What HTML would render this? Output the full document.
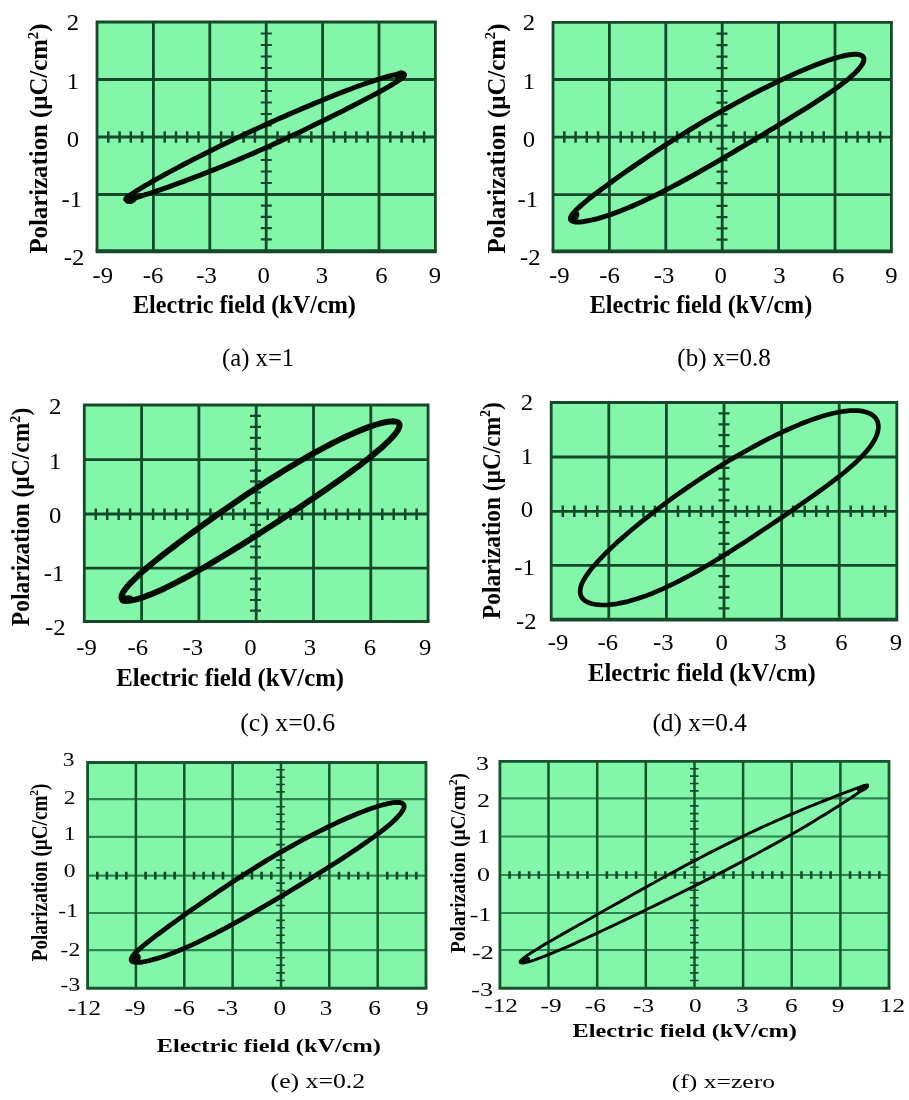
<!DOCTYPE html>
<html><head><meta charset="utf-8"><title>P-E hysteresis loops</title>
<style>
html,body{margin:0;padding:0;background:#fff;}
svg{display:block;font-family:'Liberation Serif', serif;fill:#000;}
</style></head><body>
<svg width="909" height="1100" viewBox="0 0 909 1100">
<defs><filter id="soft" x="0" y="0" width="909" height="1100" filterUnits="userSpaceOnUse"><feGaussianBlur stdDeviation="0.45"/></filter></defs>
<rect width="909" height="1100" fill="#ffffff"/>
<g filter="url(#soft)">
<rect x="97.0" y="22.0" width="338.4" height="228.6" fill="#83f6aa"/>
<path d="M97.0 79.5H435.4M97.0 137.0H435.4M97.0 194.5H435.4" stroke="#134a2a" stroke-width="2.8" fill="none"/>
<path d="M153.4 22.0V250.6M209.8 22.0V250.6M266.2 22.0V250.6M322.6 22.0V250.6M379.0 22.0V250.6" stroke="#134a2a" stroke-width="2.8" fill="none"/>
<path d="M97.0 250.6V22.0H435.4V250.6" stroke="#134a2a" stroke-width="2.8" fill="none" stroke-linejoin="miter"/>
<path d="M95.6 251.2H436.8" stroke="#134a2a" stroke-width="4.0" fill="none"/>
<path d="M108.3 131.2V142.8M119.6 131.2V142.8M130.8 131.2V142.8M142.1 131.2V142.8M164.7 131.2V142.8M176.0 131.2V142.8M187.2 131.2V142.8M198.5 131.2V142.8M221.1 131.2V142.8M232.4 131.2V142.8M243.6 131.2V142.8M254.9 131.2V142.8M277.5 131.2V142.8M288.8 131.2V142.8M300.0 131.2V142.8M311.3 131.2V142.8M333.9 131.2V142.8M345.2 131.2V142.8M356.4 131.2V142.8M367.7 131.2V142.8M390.3 131.2V142.8M401.6 131.2V142.8M412.8 131.2V142.8M424.1 131.2V142.8" stroke="#134a2a" stroke-width="2.5" fill="none"/>
<path d="M260.8 33.5H271.8M260.8 45.0H271.8M260.8 56.5H271.8M260.8 68.0H271.8M260.8 91.0H271.8M260.8 102.5H271.8M260.8 114.0H271.8M260.8 125.5H271.8M260.8 148.5H271.8M260.8 160.0H271.8M260.8 171.5H271.8M260.8 183.0H271.8M260.8 205.7H271.8M260.8 216.9H271.8M260.8 228.2H271.8M260.8 239.4H271.8" stroke="#134a2a" stroke-width="2.2" fill="none"/>
<path d="M404.4 74.9L404.3 74.5L403.8 74.1L403.1 73.9L402.2 73.8L400.9 73.8L399.4 74.0L397.6 74.2L395.5 74.6L393.2 75.1L390.6 75.7L387.8 76.5L384.7 77.4L381.3 78.3L377.8 79.5L374.0 80.7L370.0 82.0L365.8 83.5L361.3 85.0L356.7 86.7L351.9 88.5L347.0 90.4L341.8 92.4L336.5 94.4L331.1 96.6L325.5 98.9L319.8 101.2L314.0 103.6L308.1 106.1L302.1 108.6L296.1 111.2L289.9 113.9L283.8 116.6L277.5 119.3L271.3 122.1L265.1 124.9L258.8 127.8L252.6 130.6L246.3 133.5L240.2 136.4L234.0 139.3L228.0 142.2L222.0 145.1L216.1 148.0L210.3 150.9L204.6 153.7L199.0 156.6L193.6 159.3L188.3 162.1L183.1 164.7L178.2 167.4L173.4 169.9L168.8 172.4L164.3 174.8L160.1 177.2L156.1 179.4L152.3 181.5L148.8 183.6L145.4 185.5L142.3 187.4L139.5 189.1L136.9 190.7L134.6 192.1L132.5 193.5L130.7 194.7L129.2 195.8L127.9 196.7L127.0 197.5L126.3 198.2L125.8 198.8L125.7 199.2L125.8 199.5L126.3 199.6L127.0 199.7L127.9 199.6L129.2 199.4L130.7 199.0L132.5 198.6L134.6 198.0L136.9 197.4L139.5 196.6L142.3 195.7L145.4 194.7L148.8 193.7L152.3 192.5L156.1 191.2L160.1 189.8L164.3 188.4L168.8 186.8L173.4 185.1L178.2 183.4L183.1 181.6L188.3 179.7L193.6 177.7L199.0 175.6L204.6 173.4L210.3 171.2L216.1 168.9L222.0 166.5L228.0 164.0L234.0 161.5L240.2 158.9L246.3 156.3L252.6 153.6L258.8 150.8L265.1 148.0L271.3 145.2L277.5 142.4L283.8 139.5L289.9 136.6L296.1 133.7L302.1 130.9L308.1 128.0L314.0 125.1L319.8 122.3L325.5 119.5L331.1 116.7L336.5 114.0L341.8 111.4L347.0 108.8L351.9 106.2L356.7 103.8L361.3 101.4L365.8 99.1L370.0 96.9L374.0 94.8L377.8 92.7L381.3 90.8L384.7 88.9L387.8 87.2L390.6 85.5L393.2 84.0L395.5 82.5L397.6 81.2L399.4 80.0L400.9 78.9L402.2 77.8L403.1 76.9L403.8 76.2L404.3 75.5Z" stroke="#050805" stroke-width="5.0" fill="none" stroke-linejoin="round"/>
<ellipse cx="400.5" cy="75.5" rx="6.2" ry="5.0" transform="rotate(-20 400.5 75.5)" fill="#050805"/>
<ellipse cx="131.0" cy="198.7" rx="7.0" ry="5.0" transform="rotate(-25 131.0 198.7)" fill="#050805"/>
<text transform="translate(102.7 283.4) scale(1.030 1)" font-size="24.0" text-anchor="middle">-9</text>
<text transform="translate(153.0 283.4) scale(1.030 1)" font-size="24.0" text-anchor="middle">-6</text>
<text transform="translate(206.5 283.4) scale(1.030 1)" font-size="24.0" text-anchor="middle">-3</text>
<text transform="translate(263.6 283.4) scale(1.030 1)" font-size="24.0" text-anchor="middle">0</text>
<text transform="translate(322.0 283.4) scale(1.030 1)" font-size="24.0" text-anchor="middle">3</text>
<text transform="translate(381.4 283.4) scale(1.030 1)" font-size="24.0" text-anchor="middle">6</text>
<text transform="translate(434.9 283.4) scale(1.030 1)" font-size="24.0" text-anchor="middle">9</text>
<text transform="translate(79.0 29.5) scale(1.030 1)" font-size="24.0" text-anchor="end">2</text>
<text transform="translate(79.0 88.5) scale(1.030 1)" font-size="24.0" text-anchor="end">1</text>
<text transform="translate(79.0 146.5) scale(1.030 1)" font-size="24.0" text-anchor="end">0</text>
<text transform="translate(82.0 206.5) scale(1.030 1)" font-size="24.0" text-anchor="end">-1</text>
<text transform="translate(84.3 264.5) scale(1.030 1)" font-size="24.0" text-anchor="end">-2</text>
<text transform="translate(133.0 312.8) scale(0.991 1)" font-size="24.4" font-weight="bold">Electric field (kV/cm)</text>
<text transform="translate(47.0 253.5) rotate(-90) scale(1.015 1)" font-size="24.4" font-weight="bold">Polarization (µC/cm<tspan font-size="14.6" dy="-9.3">2</tspan><tspan dy="9.3">)</tspan></text>
<text transform="translate(222.0 365.7) scale(1.012 1)" font-size="24.4">(a) x=1</text>
<rect x="553.0" y="22.3" width="338.4" height="228.5" fill="#83f6aa"/>
<path d="M553.0 79.5H891.4M553.0 137.2H891.4M553.0 194.7H891.4" stroke="#134a2a" stroke-width="2.8" fill="none"/>
<path d="M609.4 22.3V250.8M665.8 22.3V250.8M722.2 22.3V250.8M778.6 22.3V250.8M835.0 22.3V250.8" stroke="#134a2a" stroke-width="2.8" fill="none"/>
<path d="M553.0 250.8V22.3H891.4V250.8" stroke="#134a2a" stroke-width="2.8" fill="none" stroke-linejoin="miter"/>
<path d="M551.6 251.3H892.8" stroke="#134a2a" stroke-width="3.8" fill="none"/>
<path d="M564.3 131.2V142.8M575.6 131.2V142.8M586.8 131.2V142.8M598.1 131.2V142.8M620.7 131.2V142.8M632.0 131.2V142.8M643.2 131.2V142.8M654.5 131.2V142.8M677.1 131.2V142.8M688.4 131.2V142.8M699.6 131.2V142.8M710.9 131.2V142.8M733.5 131.2V142.8M744.8 131.2V142.8M756.0 131.2V142.8M767.3 131.2V142.8M789.9 131.2V142.8M801.2 131.2V142.8M812.4 131.2V142.8M823.7 131.2V142.8M846.3 131.2V142.8M857.6 131.2V142.8M868.8 131.2V142.8M880.1 131.2V142.8" stroke="#134a2a" stroke-width="2.5" fill="none"/>
<path d="M716.5 33.7H727.5M716.5 45.2H727.5M716.5 56.6H727.5M716.5 68.1H727.5M716.5 91.0H727.5M716.5 102.6H727.5M716.5 114.1H727.5M716.5 125.7H727.5M716.5 148.7H727.5M716.5 160.2H727.5M716.5 171.7H727.5M716.5 183.2H727.5M716.5 205.9H727.5M716.5 217.1H727.5M716.5 228.4H727.5M716.5 239.6H727.5" stroke="#134a2a" stroke-width="2.2" fill="none"/>
<path d="M863.9 59.3L863.8 58.1L863.3 57.1L862.6 56.2L861.5 55.5L860.2 54.9L858.6 54.5L856.7 54.3L854.5 54.3L852.1 54.5L849.4 54.8L846.4 55.3L843.1 56.0L839.6 56.9L835.9 57.9L831.9 59.1L827.7 60.5L823.2 62.1L818.6 63.8L813.7 65.7L808.7 67.8L803.4 70.0L798.0 72.3L792.4 74.8L786.7 77.4L780.9 80.1L774.9 83.0L768.7 86.0L762.5 89.1L756.2 92.3L749.8 95.6L743.4 99.1L736.9 102.6L730.4 106.2L723.8 109.8L717.2 113.6L710.6 117.4L704.0 121.2L697.5 125.1L691.0 129.0L684.6 133.0L678.2 137.0L671.9 140.9L665.7 144.9L659.5 148.9L653.5 152.8L647.7 156.7L642.0 160.6L636.4 164.4L631.0 168.1L625.7 171.8L620.7 175.3L615.8 178.8L611.2 182.1L606.7 185.4L602.5 188.5L598.5 191.5L594.8 194.3L591.3 197.1L588.0 199.6L585.0 202.1L582.3 204.4L579.9 206.5L577.7 208.5L575.8 210.4L574.2 212.1L572.9 213.7L571.8 215.1L571.1 216.4L570.6 217.6L570.5 218.6L570.6 219.5L571.1 220.3L571.8 220.9L572.9 221.3L574.2 221.7L575.8 221.9L577.7 222.0L579.9 221.9L582.3 221.7L585.0 221.3L588.0 220.8L591.3 220.1L594.8 219.3L598.5 218.3L602.5 217.1L606.7 215.8L611.2 214.3L615.8 212.6L620.7 210.8L625.7 208.7L631.0 206.6L636.4 204.2L642.0 201.7L647.7 199.0L653.5 196.2L659.5 193.2L665.7 190.1L671.9 186.9L678.2 183.5L684.6 180.0L691.0 176.5L697.5 172.9L704.0 169.1L710.6 165.4L717.2 161.6L723.8 157.7L730.4 153.9L736.9 150.0L743.4 146.2L749.8 142.3L756.2 138.5L762.5 134.8L768.7 131.0L774.9 127.3L780.9 123.7L786.7 120.2L792.4 116.7L798.0 113.2L803.4 109.9L808.7 106.6L813.7 103.4L818.6 100.2L823.2 97.2L827.7 94.2L831.9 91.3L835.9 88.5L839.6 85.8L843.1 83.1L846.4 80.6L849.4 78.1L852.1 75.7L854.5 73.5L856.7 71.3L858.6 69.2L860.2 67.2L861.5 65.4L862.6 63.7L863.3 62.1L863.8 60.6Z" stroke="#050805" stroke-width="5.0" fill="none" stroke-linejoin="round"/>
<ellipse cx="574.0" cy="216.5" rx="4.5" ry="6.5" transform="rotate(40 574.0 216.5)" fill="#050805"/>
<text transform="translate(559.4 283.4) scale(1.030 1)" font-size="24.0" text-anchor="middle">-9</text>
<text transform="translate(609.5 283.4) scale(1.030 1)" font-size="24.0" text-anchor="middle">-6</text>
<text transform="translate(664.0 283.4) scale(1.030 1)" font-size="24.0" text-anchor="middle">-3</text>
<text transform="translate(720.7 283.4) scale(1.030 1)" font-size="24.0" text-anchor="middle">0</text>
<text transform="translate(779.5 283.4) scale(1.030 1)" font-size="24.0" text-anchor="middle">3</text>
<text transform="translate(838.2 283.4) scale(1.030 1)" font-size="24.0" text-anchor="middle">6</text>
<text transform="translate(891.5 283.4) scale(1.030 1)" font-size="24.0" text-anchor="middle">9</text>
<text transform="translate(535.0 29.5) scale(1.030 1)" font-size="24.0" text-anchor="end">2</text>
<text transform="translate(535.0 88.5) scale(1.030 1)" font-size="24.0" text-anchor="end">1</text>
<text transform="translate(535.0 147.0) scale(1.030 1)" font-size="24.0" text-anchor="end">0</text>
<text transform="translate(538.0 206.5) scale(1.030 1)" font-size="24.0" text-anchor="end">-1</text>
<text transform="translate(540.5 264.5) scale(1.030 1)" font-size="24.0" text-anchor="end">-2</text>
<text transform="translate(589.7 312.8) scale(0.990 1)" font-size="24.4" font-weight="bold">Electric field (kV/cm)</text>
<text transform="translate(504.5 253.5) rotate(-90) scale(1.015 1)" font-size="24.4" font-weight="bold">Polarization (µC/cm<tspan font-size="14.6" dy="-9.3">2</tspan><tspan dy="9.3">)</tspan></text>
<text transform="translate(677.3 365.7) scale(1.027 1)" font-size="24.4">(b) x=0.8</text>
<rect x="84.3" y="405.0" width="343.8" height="216.3" fill="#83f6aa"/>
<path d="M84.3 459.7H428.1M84.3 514.0H428.1M84.3 568.1H428.1" stroke="#134a2a" stroke-width="2.8" fill="none"/>
<path d="M141.6 405.0V621.3M198.9 405.0V621.3M256.2 405.0V621.3M313.5 405.0V621.3M370.8 405.0V621.3" stroke="#134a2a" stroke-width="2.8" fill="none"/>
<path d="M84.3 621.3V405.0H428.1V621.3" stroke="#134a2a" stroke-width="2.8" fill="none" stroke-linejoin="miter"/>
<path d="M82.9 621.4H429.5" stroke="#134a2a" stroke-width="3.0" fill="none"/>
<path d="M95.8 508.4V520.0M107.2 508.4V520.0M118.7 508.4V520.0M130.1 508.4V520.0M153.1 508.4V520.0M164.5 508.4V520.0M176.0 508.4V520.0M187.4 508.4V520.0M210.4 508.4V520.0M221.8 508.4V520.0M233.3 508.4V520.0M244.7 508.4V520.0M267.7 508.4V520.0M279.1 508.4V520.0M290.6 508.4V520.0M302.0 508.4V520.0M325.0 508.4V520.0M336.4 508.4V520.0M347.9 508.4V520.0M359.3 508.4V520.0M382.3 508.4V520.0M393.7 508.4V520.0M405.2 508.4V520.0M416.6 508.4V520.0" stroke="#134a2a" stroke-width="2.5" fill="none"/>
<path d="M250.0 415.9H261.0M250.0 426.9H261.0M250.0 437.8H261.0M250.0 448.8H261.0M250.0 470.6H261.0M250.0 481.4H261.0M250.0 492.3H261.0M250.0 503.1H261.0M250.0 524.8H261.0M250.0 535.6H261.0M250.0 546.5H261.0M250.0 557.3H261.0M250.0 578.7H261.0M250.0 589.4H261.0M250.0 600.0H261.0M250.0 610.7H261.0" stroke="#134a2a" stroke-width="2.2" fill="none"/>
<path d="M399.5 425.3L399.4 424.2L398.9 423.3L398.2 422.6L397.3 422.0L396.0 421.6L394.5 421.4L392.7 421.3L390.6 421.4L388.3 421.7L385.7 422.1L382.9 422.7L379.8 423.5L376.5 424.5L373.0 425.6L369.2 426.9L365.2 428.4L361.0 430.1L356.6 431.9L352.0 433.9L347.2 436.1L342.2 438.4L337.1 440.9L331.8 443.5L326.4 446.3L320.8 449.3L315.1 452.4L309.3 455.6L303.5 459.0L297.5 462.5L291.4 466.1L285.3 469.8L279.2 473.6L273.0 477.4L266.7 481.4L260.5 485.4L254.3 489.5L248.0 493.6L241.8 497.8L235.7 502.0L229.6 506.2L223.5 510.4L217.5 514.5L211.7 518.7L205.9 522.8L200.2 526.9L194.6 531.0L189.2 534.9L183.9 538.9L178.8 542.7L173.8 546.5L169.0 550.1L164.4 553.7L160.0 557.2L155.8 560.5L151.8 563.8L148.0 566.9L144.5 569.9L141.2 572.8L138.1 575.6L135.3 578.3L132.7 580.8L130.4 583.2L128.3 585.4L126.5 587.5L125.0 589.5L123.7 591.3L122.8 592.9L122.1 594.4L121.6 595.8L121.5 597.0L121.6 598.0L122.1 598.9L122.8 599.6L123.7 600.1L125.0 600.5L126.5 600.7L128.3 600.7L130.4 600.5L132.7 600.1L135.3 599.6L138.1 598.8L141.2 597.9L144.5 596.8L148.0 595.4L151.8 594.0L155.8 592.3L160.0 590.4L164.4 588.4L169.0 586.1L173.8 583.8L178.8 581.2L183.9 578.5L189.2 575.6L194.6 572.6L200.2 569.5L205.9 566.3L211.7 562.9L217.5 559.4L223.5 555.8L229.6 552.1L235.7 548.4L241.8 544.6L248.0 540.7L254.3 536.8L260.5 532.8L266.7 528.8L273.0 524.8L279.2 520.8L285.3 516.8L291.4 512.8L297.5 508.8L303.5 504.8L309.3 500.8L315.1 496.9L320.8 493.0L326.4 489.2L331.8 485.4L337.1 481.7L342.2 478.1L347.2 474.5L352.0 471.0L356.6 467.6L361.0 464.3L365.2 461.0L369.2 457.9L373.0 454.9L376.5 451.9L379.8 449.1L382.9 446.4L385.7 443.8L388.3 441.3L390.6 439.0L392.7 436.8L394.5 434.7L396.0 432.8L397.3 431.0L398.2 429.3L398.9 427.8L399.4 426.5Z" stroke="#050805" stroke-width="6.0" fill="none" stroke-linejoin="round"/>
<ellipse cx="126.5" cy="599.5" rx="7.0" ry="4.2" transform="rotate(-12 126.5 599.5)" fill="#050805"/>
<text transform="translate(86.5 654.6) scale(1.030 1)" font-size="24.0" text-anchor="middle">-9</text>
<text transform="translate(137.7 654.6) scale(1.030 1)" font-size="24.0" text-anchor="middle">-6</text>
<text transform="translate(192.8 654.6) scale(1.030 1)" font-size="24.0" text-anchor="middle">-3</text>
<text transform="translate(250.5 654.6) scale(1.030 1)" font-size="24.0" text-anchor="middle">0</text>
<text transform="translate(310.0 654.6) scale(1.030 1)" font-size="24.0" text-anchor="middle">3</text>
<text transform="translate(370.0 654.6) scale(1.030 1)" font-size="24.0" text-anchor="middle">6</text>
<text transform="translate(425.2 654.6) scale(1.030 1)" font-size="24.0" text-anchor="middle">9</text>
<text transform="translate(61.3 414.0) scale(1.030 1)" font-size="24.0" text-anchor="end">2</text>
<text transform="translate(61.3 468.5) scale(1.030 1)" font-size="24.0" text-anchor="end">1</text>
<text transform="translate(61.3 522.8) scale(1.030 1)" font-size="24.0" text-anchor="end">0</text>
<text transform="translate(64.3 580.8) scale(1.030 1)" font-size="24.0" text-anchor="end">-1</text>
<text transform="translate(65.5 635.0) scale(1.030 1)" font-size="24.0" text-anchor="end">-2</text>
<text transform="translate(116.2 686.0) scale(1.013 1)" font-size="24.4" font-weight="bold">Electric field (kV/cm)</text>
<text transform="translate(29.3 626.2) rotate(-90) scale(0.964 1)" font-size="24.4" font-weight="bold">Polarization (µC/cm<tspan font-size="14.6" dy="-9.3">2</tspan><tspan dy="9.3">)</tspan></text>
<text transform="translate(240.2 730.8) scale(1.060 1)" font-size="24.4">(c) x=0.6</text>
<rect x="551.2" y="402.5" width="345.5" height="216.7" fill="#83f6aa"/>
<path d="M551.2 457.0H896.8M551.2 511.3H896.8M551.2 565.4H896.8" stroke="#134a2a" stroke-width="2.8" fill="none"/>
<path d="M608.8 402.5V619.2M666.4 402.5V619.2M724.0 402.5V619.2M781.6 402.5V619.2M839.2 402.5V619.2" stroke="#134a2a" stroke-width="2.8" fill="none"/>
<path d="M551.2 619.2V402.5H896.8V619.2" stroke="#134a2a" stroke-width="2.8" fill="none" stroke-linejoin="miter"/>
<path d="M549.9 619.7H898.2" stroke="#134a2a" stroke-width="3.8" fill="none"/>
<path d="M562.8 505.5V517.1M574.3 505.5V517.1M585.8 505.5V517.1M597.3 505.5V517.1M620.4 505.5V517.1M631.9 505.5V517.1M643.4 505.5V517.1M654.9 505.5V517.1M678.0 505.5V517.1M689.5 505.5V517.1M701.0 505.5V517.1M712.5 505.5V517.1M735.5 505.5V517.1M747.1 505.5V517.1M758.6 505.5V517.1M770.1 505.5V517.1M793.1 505.5V517.1M804.7 505.5V517.1M816.2 505.5V517.1M827.7 505.5V517.1M850.7 505.5V517.1M862.2 505.5V517.1M873.8 505.5V517.1M885.3 505.5V517.1" stroke="#134a2a" stroke-width="2.5" fill="none"/>
<path d="M718.5 413.4H729.5M718.5 424.3H729.5M718.5 435.2H729.5M718.5 446.1H729.5M718.5 467.9H729.5M718.5 478.7H729.5M718.5 489.6H729.5M718.5 500.4H729.5M718.5 522.1H729.5M718.5 532.9H729.5M718.5 543.8H729.5M718.5 554.6H729.5M718.5 576.2H729.5M718.5 586.9H729.5M718.5 597.7H729.5M718.5 608.4H729.5" stroke="#134a2a" stroke-width="2.2" fill="none"/>
<path d="M878.4 426.8L878.2 424.5L877.8 422.4L877.1 420.5L876.0 418.6L874.7 417.0L873.0 415.5L871.1 414.2L868.9 413.1L866.4 412.2L863.6 411.4L860.6 410.9L857.3 410.6L853.7 410.6L849.9 410.7L845.9 411.1L841.6 411.7L837.1 412.5L832.3 413.5L827.4 414.8L822.2 416.3L816.9 418.0L811.4 419.9L805.7 422.0L799.9 424.3L794.0 426.8L787.9 429.5L781.7 432.3L775.3 435.4L768.9 438.5L762.4 441.9L755.9 445.4L749.3 449.0L742.6 452.7L735.9 456.6L729.2 460.5L722.6 464.6L715.9 468.7L709.2 473.0L702.6 477.3L696.1 481.6L689.6 486.0L683.2 490.5L676.8 494.9L670.6 499.4L664.5 503.9L658.6 508.4L652.8 512.8L647.1 517.3L641.6 521.6L636.3 526.0L631.1 530.3L626.2 534.5L621.4 538.6L616.9 542.6L612.6 546.6L608.6 550.4L604.8 554.2L601.2 557.8L597.9 561.3L594.9 564.7L592.1 567.9L589.6 571.1L587.4 574.1L585.5 577.0L583.8 579.7L582.5 582.3L581.4 584.8L580.7 587.2L580.3 589.4L580.1 591.5L580.3 593.4L580.7 595.2L581.4 596.9L582.5 598.4L583.8 599.8L585.5 601.0L587.4 602.1L589.6 603.0L592.1 603.8L594.9 604.3L597.9 604.7L601.2 605.0L604.8 605.0L608.6 604.8L612.6 604.4L616.9 603.8L621.4 602.9L626.2 601.9L631.1 600.6L636.3 599.1L641.6 597.3L647.1 595.4L652.8 593.2L658.6 590.7L664.5 588.1L670.6 585.2L676.8 582.2L683.2 578.9L689.6 575.5L696.1 571.9L702.6 568.2L709.2 564.3L715.9 560.3L722.6 556.2L729.2 552.0L735.9 547.8L742.6 543.5L749.3 539.1L755.9 534.8L762.4 530.4L768.9 526.1L775.3 521.8L781.7 517.5L787.9 513.2L794.0 509.1L799.9 504.9L805.7 500.9L811.4 496.9L816.9 493.0L822.2 489.1L827.4 485.3L832.3 481.6L837.1 478.0L841.6 474.5L845.9 471.0L849.9 467.5L853.7 464.2L857.3 460.9L860.6 457.7L863.6 454.5L866.4 451.4L868.9 448.3L871.1 445.4L873.0 442.5L874.7 439.6L876.0 436.9L877.1 434.2L877.8 431.6L878.2 429.1Z" stroke="#050805" stroke-width="4.7" fill="none" stroke-linejoin="round"/>
<text transform="translate(558.0 649.6) scale(1.030 1)" font-size="24.0" text-anchor="middle">-9</text>
<text transform="translate(607.9 649.6) scale(1.030 1)" font-size="24.0" text-anchor="middle">-6</text>
<text transform="translate(663.3 649.6) scale(1.030 1)" font-size="24.0" text-anchor="middle">-3</text>
<text transform="translate(721.7 649.6) scale(1.030 1)" font-size="24.0" text-anchor="middle">0</text>
<text transform="translate(780.5 649.6) scale(1.030 1)" font-size="24.0" text-anchor="middle">3</text>
<text transform="translate(841.5 649.6) scale(1.030 1)" font-size="24.0" text-anchor="middle">6</text>
<text transform="translate(896.0 649.6) scale(1.030 1)" font-size="24.0" text-anchor="middle">9</text>
<text transform="translate(533.0 409.8) scale(1.030 1)" font-size="24.0" text-anchor="end">2</text>
<text transform="translate(533.0 463.5) scale(1.030 1)" font-size="24.0" text-anchor="end">1</text>
<text transform="translate(533.0 516.7) scale(1.030 1)" font-size="24.0" text-anchor="end">0</text>
<text transform="translate(534.8 574.5) scale(1.030 1)" font-size="24.0" text-anchor="end">-1</text>
<text transform="translate(536.7 629.0) scale(1.030 1)" font-size="24.0" text-anchor="end">-2</text>
<text transform="translate(588.0 681.0) scale(1.013 1)" font-size="24.4" font-weight="bold">Electric field (kV/cm)</text>
<text transform="translate(499.5 619.0) rotate(-90) scale(0.957 1)" font-size="24.4" font-weight="bold">Polarization (µC/cm<tspan font-size="14.6" dy="-9.3">2</tspan><tspan dy="9.3">)</tspan></text>
<text transform="translate(652.4 731.2) scale(1.039 1)" font-size="24.4">(d) x=0.4</text>
<rect x="87.6" y="762.5" width="338.4" height="225.6" fill="#83f6aa"/>
<path d="M87.6 799.2H426.0M87.6 836.8H426.0M87.6 875.6H426.0M87.6 913.0H426.0M87.6 950.1H426.0" stroke="#2f8450" stroke-width="2.2" fill="none"/>
<path d="M135.9 762.5V988.1M184.3 762.5V988.1M232.6 762.5V988.1M281.0 762.5V988.1M329.3 762.5V988.1M377.7 762.5V988.1" stroke="#15552c" stroke-width="2.5" fill="none"/>
<path d="M87.6 988.1V762.5H426.0V988.1" stroke="#15552c" stroke-width="2.8" fill="none" stroke-linejoin="miter"/>
<path d="M86.2 988.2H427.4" stroke="#15552c" stroke-width="3.0" fill="none"/>
<path d="M97.3 871.8V879.4M106.9 871.8V879.4M116.6 871.8V879.4M126.3 871.8V879.4M145.6 871.8V879.4M155.3 871.8V879.4M164.9 871.8V879.4M174.6 871.8V879.4M194.0 871.8V879.4M203.6 871.8V879.4M213.3 871.8V879.4M223.0 871.8V879.4M242.3 871.8V879.4M252.0 871.8V879.4M261.6 871.8V879.4M271.3 871.8V879.4M290.6 871.8V879.4M300.3 871.8V879.4M310.0 871.8V879.4M319.6 871.8V879.4M339.0 871.8V879.4M348.7 871.8V879.4M358.3 871.8V879.4M368.0 871.8V879.4M387.3 871.8V879.4M397.0 871.8V879.4M406.7 871.8V879.4M416.3 871.8V879.4" stroke="#134a2a" stroke-width="2.6" fill="none"/>
<path d="M276.2 769.8H284.8M276.2 777.2H284.8M276.2 784.5H284.8M276.2 791.9H284.8M276.2 806.7H284.8M276.2 814.2H284.8M276.2 821.8H284.8M276.2 829.3H284.8M276.2 844.6H284.8M276.2 852.3H284.8M276.2 860.1H284.8M276.2 867.8H284.8M276.2 883.1H284.8M276.2 890.6H284.8M276.2 898.0H284.8M276.2 905.5H284.8M276.2 920.4H284.8M276.2 927.8H284.8M276.2 935.3H284.8M276.2 942.7H284.8M276.2 957.7H284.8M276.2 965.3H284.8M276.2 972.9H284.8M276.2 980.5H284.8" stroke="#134a2a" stroke-width="1.6" fill="none"/>
<path d="M404.1 806.2L404.0 805.2L403.6 804.4L402.9 803.7L401.9 803.1L400.7 802.7L399.2 802.5L397.4 802.4L395.4 802.5L393.1 802.7L390.6 803.1L387.8 803.7L384.8 804.4L381.5 805.3L378.0 806.3L374.3 807.5L370.4 808.8L366.3 810.3L361.9 812.0L357.4 813.8L352.7 815.7L347.9 817.8L342.8 820.0L337.6 822.4L332.3 824.9L326.9 827.5L321.3 830.3L315.6 833.1L309.8 836.1L304.0 839.2L298.0 842.5L292.0 845.8L286.0 849.2L279.9 852.7L273.8 856.3L267.6 859.9L261.5 863.6L255.4 867.4L249.3 871.2L243.3 875.1L237.3 878.9L231.3 882.8L225.5 886.7L219.7 890.5L214.0 894.4L208.4 898.2L203.0 901.9L197.7 905.6L192.5 909.2L187.4 912.8L182.6 916.3L177.9 919.6L173.4 922.9L169.0 926.0L164.9 929.1L161.0 932.0L157.3 934.7L153.8 937.4L150.5 939.9L147.5 942.3L144.7 944.5L142.2 946.6L139.9 948.6L137.9 950.4L136.1 952.1L134.6 953.7L133.4 955.1L132.4 956.4L131.7 957.6L131.3 958.7L131.2 959.6L131.3 960.4L131.7 961.0L132.4 961.6L133.4 962.0L134.6 962.2L136.1 962.4L137.9 962.4L139.9 962.3L142.2 962.0L144.7 961.6L147.5 961.0L150.5 960.3L153.8 959.4L157.3 958.4L161.0 957.3L164.9 955.9L169.0 954.4L173.4 952.8L177.9 951.0L182.6 949.0L187.4 946.9L192.5 944.6L197.7 942.2L203.0 939.6L208.4 936.9L214.0 934.1L219.7 931.2L225.5 928.1L231.3 924.9L237.3 921.7L243.3 918.3L249.3 914.9L255.4 911.4L261.5 907.9L267.6 904.3L273.8 900.7L279.9 897.0L286.0 893.4L292.0 889.7L298.0 886.1L304.0 882.5L309.8 878.9L315.6 875.3L321.3 871.7L326.9 868.2L332.3 864.8L337.6 861.4L342.8 858.1L347.9 854.8L352.7 851.6L357.4 848.4L361.9 845.3L366.3 842.3L370.4 839.4L374.3 836.6L378.0 833.8L381.5 831.1L384.8 828.5L387.8 826.1L390.6 823.7L393.1 821.4L395.4 819.2L397.4 817.2L399.2 815.2L400.7 813.4L401.9 811.7L402.9 810.1L403.6 808.7L404.0 807.4Z" stroke="#050805" stroke-width="4.8" fill="none" stroke-linejoin="round"/>
<ellipse cx="135.5" cy="958.0" rx="5.5" ry="4.8" transform="rotate(-30 135.5 958.0)" fill="#050805"/>
<text transform="translate(84.4 1015.1) scale(1.240 1)" font-size="20.3" text-anchor="middle">-12</text>
<text transform="translate(135.2 1015.1) scale(1.240 1)" font-size="20.3" text-anchor="middle">-9</text>
<text transform="translate(184.3 1015.1) scale(1.240 1)" font-size="20.3" text-anchor="middle">-6</text>
<text transform="translate(227.7 1015.1) scale(1.240 1)" font-size="20.3" text-anchor="middle">-3</text>
<text transform="translate(279.8 1015.1) scale(1.240 1)" font-size="20.3" text-anchor="middle">0</text>
<text transform="translate(326.0 1015.1) scale(1.240 1)" font-size="20.3" text-anchor="middle">3</text>
<text transform="translate(374.5 1015.1) scale(1.240 1)" font-size="20.3" text-anchor="middle">6</text>
<text transform="translate(422.4 1015.1) scale(1.240 1)" font-size="20.3" text-anchor="middle">9</text>
<text transform="translate(74.5 766.4) scale(1.240 1)" font-size="19.0" text-anchor="end">3</text>
<text transform="translate(75.5 803.5) scale(1.240 1)" font-size="19.0" text-anchor="end">2</text>
<text transform="translate(75.5 840.0) scale(1.240 1)" font-size="19.0" text-anchor="end">1</text>
<text transform="translate(75.5 876.7) scale(1.240 1)" font-size="19.0" text-anchor="end">0</text>
<text transform="translate(78.0 916.6) scale(1.240 1)" font-size="19.0" text-anchor="end">-1</text>
<text transform="translate(80.2 955.6) scale(1.240 1)" font-size="19.0" text-anchor="end">-2</text>
<text transform="translate(80.2 991.2) scale(1.240 1)" font-size="19.0" text-anchor="end">-3</text>
<text transform="translate(156.8 1051.6) scale(1.241 1)" font-size="19.6" font-weight="bold">Electric field (kV/cm)</text>
<text transform="translate(46.6 961.3) rotate(-90) scale(0.851 1)" font-size="22.5" font-weight="bold">Polarization (µC/cm<tspan font-size="13.5" dy="-8.6">2</tspan><tspan dy="8.6">)</tspan></text>
<text transform="translate(270.6 1088.0) scale(1.250 1)" font-size="20.6">(e) x=0.2</text>
<rect x="499.9" y="761.3" width="389.1" height="226.8" fill="#83f6aa"/>
<path d="M499.9 798.3H889.0M499.9 836.5H889.0M499.9 875.0H889.0M499.9 913.0H889.0M499.9 950.0H889.0" stroke="#2f8450" stroke-width="2.2" fill="none"/>
<path d="M548.5 761.3V988.1M597.2 761.3V988.1M645.8 761.3V988.1M694.5 761.3V988.1M743.1 761.3V988.1M791.7 761.3V988.1M840.4 761.3V988.1" stroke="#15552c" stroke-width="2.5" fill="none"/>
<path d="M499.9 988.1V761.3H889.0V988.1" stroke="#15552c" stroke-width="2.8" fill="none" stroke-linejoin="miter"/>
<path d="M498.5 988.2H890.4" stroke="#15552c" stroke-width="3.0" fill="none"/>
<path d="M509.6 871.2V878.8M519.4 871.2V878.8M529.1 871.2V878.8M538.8 871.2V878.8M558.3 871.2V878.8M568.0 871.2V878.8M577.7 871.2V878.8M587.4 871.2V878.8M606.9 871.2V878.8M616.6 871.2V878.8M626.4 871.2V878.8M636.1 871.2V878.8M655.5 871.2V878.8M665.3 871.2V878.8M675.0 871.2V878.8M684.7 871.2V878.8M704.2 871.2V878.8M713.9 871.2V878.8M723.6 871.2V878.8M733.4 871.2V878.8M752.8 871.2V878.8M762.5 871.2V878.8M772.3 871.2V878.8M782.0 871.2V878.8M801.5 871.2V878.8M811.2 871.2V878.8M820.9 871.2V878.8M830.6 871.2V878.8M850.1 871.2V878.8M859.8 871.2V878.8M869.5 871.2V878.8M879.3 871.2V878.8" stroke="#134a2a" stroke-width="2.6" fill="none"/>
<path d="M690.0 768.7H698.5M690.0 776.1H698.5M690.0 783.5H698.5M690.0 790.9H698.5M690.0 805.9H698.5M690.0 813.6H698.5M690.0 821.2H698.5M690.0 828.9H698.5M690.0 844.2H698.5M690.0 851.9H698.5M690.0 859.6H698.5M690.0 867.3H698.5M690.0 882.6H698.5M690.0 890.2H698.5M690.0 897.8H698.5M690.0 905.4H698.5M690.0 920.4H698.5M690.0 927.8H698.5M690.0 935.2H698.5M690.0 942.6H698.5M690.0 957.6H698.5M690.0 965.2H698.5M690.0 972.9H698.5M690.0 980.5H698.5" stroke="#134a2a" stroke-width="1.6" fill="none"/>
<path d="M867.6 785.4L867.4 785.1L866.9 785.1L866.0 785.2L864.8 785.5L863.2 786.0L861.3 786.6L859.1 787.4L856.5 788.3L853.6 789.4L850.4 790.6L846.9 791.9L843.0 793.4L838.9 795.0L834.4 796.7L829.7 798.6L824.7 800.5L819.4 802.6L813.9 804.9L808.2 807.2L802.2 809.7L796.0 812.3L789.6 815.0L783.0 817.9L776.2 820.9L769.2 824.0L762.1 827.2L754.9 830.6L747.5 834.0L740.1 837.6L732.5 841.3L724.9 845.1L717.2 849.0L709.4 852.9L701.6 857.0L693.9 861.1L686.1 865.2L678.3 869.4L670.5 873.6L662.8 877.8L655.2 882.0L647.6 886.2L640.2 890.4L632.8 894.5L625.6 898.6L618.5 902.6L611.5 906.5L604.7 910.3L598.1 914.0L591.7 917.7L585.5 921.2L579.5 924.5L573.8 927.8L568.3 930.9L563.0 933.9L558.0 936.7L553.3 939.5L548.8 942.0L544.7 944.4L540.8 946.7L537.3 948.9L534.1 950.9L531.2 952.7L528.6 954.4L526.4 956.0L524.5 957.4L522.9 958.6L521.7 959.7L520.8 960.6L520.3 961.4L520.1 962.1L520.3 962.5L520.8 962.8L521.7 963.0L522.9 962.9L524.5 962.7L526.4 962.3L528.6 961.7L531.2 961.0L534.1 960.1L537.3 958.9L540.8 957.7L544.7 956.2L548.8 954.5L553.3 952.7L558.0 950.7L563.0 948.6L568.3 946.3L573.8 943.8L579.5 941.2L585.5 938.5L591.7 935.6L598.1 932.6L604.7 929.5L611.5 926.3L618.5 923.0L625.6 919.6L632.8 916.1L640.2 912.6L647.6 909.0L655.2 905.3L662.8 901.6L670.5 897.8L678.3 894.0L686.1 890.1L693.9 886.3L701.6 882.4L709.4 878.4L717.2 874.5L724.9 870.6L732.5 866.6L740.1 862.6L747.5 858.7L754.9 854.7L762.1 850.8L769.2 846.9L776.2 843.1L783.0 839.3L789.6 835.5L796.0 831.8L802.2 828.2L808.2 824.6L813.9 821.2L819.4 817.8L824.7 814.6L829.7 811.5L834.4 808.5L838.9 805.7L843.0 803.0L846.9 800.5L850.4 798.2L853.6 796.0L856.5 794.1L859.1 792.3L861.3 790.7L863.2 789.3L864.8 788.2L866.0 787.2L866.9 786.4L867.4 785.8Z" stroke="#050805" stroke-width="3.0" fill="none" stroke-linejoin="round"/>
<ellipse cx="525.0" cy="960.3" rx="5.5" ry="2.8" transform="rotate(-28 525.0 960.3)" fill="#050805"/>
<ellipse cx="863.0" cy="788.0" rx="6.5" ry="3.2" transform="rotate(-24 863.0 788.0)" fill="#050805"/>
<text transform="translate(501.1 1011.6) scale(1.380 1)" font-size="18.3" text-anchor="middle">-12</text>
<text transform="translate(551.0 1011.6) scale(1.380 1)" font-size="18.3" text-anchor="middle">-9</text>
<text transform="translate(595.3 1011.6) scale(1.380 1)" font-size="18.3" text-anchor="middle">-6</text>
<text transform="translate(643.6 1011.6) scale(1.380 1)" font-size="18.3" text-anchor="middle">-3</text>
<text transform="translate(695.4 1011.6) scale(1.380 1)" font-size="18.3" text-anchor="middle">0</text>
<text transform="translate(742.3 1011.6) scale(1.380 1)" font-size="18.3" text-anchor="middle">3</text>
<text transform="translate(791.3 1011.6) scale(1.380 1)" font-size="18.3" text-anchor="middle">6</text>
<text transform="translate(838.0 1011.6) scale(1.380 1)" font-size="18.3" text-anchor="middle">9</text>
<text transform="translate(892.4 1011.6) scale(1.380 1)" font-size="18.3" text-anchor="middle">12</text>
<text transform="translate(489.0 769.7) scale(1.370 1)" font-size="19.0" text-anchor="end">3</text>
<text transform="translate(490.0 807.3) scale(1.370 1)" font-size="19.0" text-anchor="end">2</text>
<text transform="translate(490.0 843.3) scale(1.370 1)" font-size="19.0" text-anchor="end">1</text>
<text transform="translate(490.0 881.3) scale(1.370 1)" font-size="19.0" text-anchor="end">0</text>
<text transform="translate(491.3 921.3) scale(1.370 1)" font-size="19.0" text-anchor="end">-1</text>
<text transform="translate(493.7 959.3) scale(1.370 1)" font-size="19.0" text-anchor="end">-2</text>
<text transform="translate(493.0 996.0) scale(1.370 1)" font-size="19.0" text-anchor="end">-3</text>
<text transform="translate(572.5 1037.0) scale(1.281 1)" font-size="19.0" font-weight="bold">Electric field (kV/cm)</text>
<text transform="translate(464.8 953.0) rotate(-90) scale(0.901 1)" font-size="21.5" font-weight="bold">Polarization (µC/cm<tspan font-size="12.9" dy="-8.2">2</tspan><tspan dy="8.2">)</tspan></text>
<text transform="translate(671.7 1088.4) scale(1.314 1)" font-size="19.5">(f) x=zero</text>
</g>
</svg>
</body></html>
